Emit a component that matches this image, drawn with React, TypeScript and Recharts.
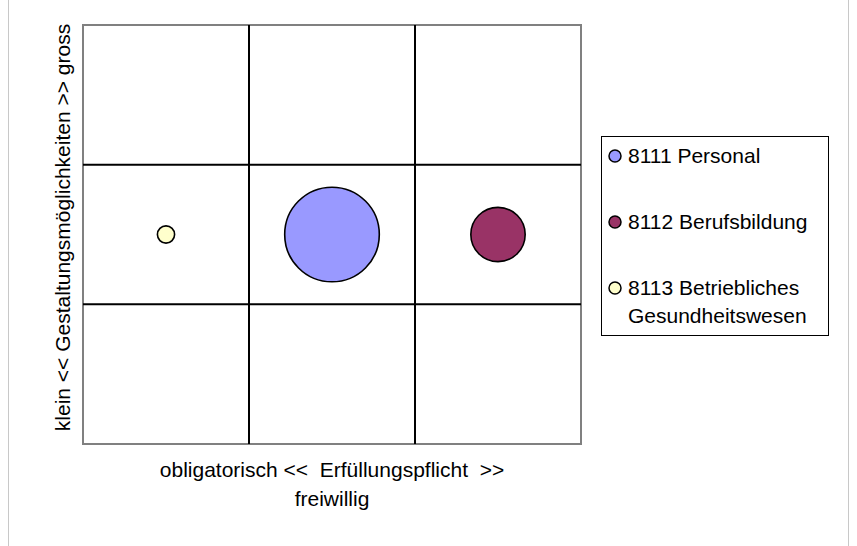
import React from 'react';
import {
  ScatterChart,
  Scatter,
  XAxis,
  YAxis,
  ZAxis,
  ReferenceLine,
  ReferenceArea,
  Legend,
} from 'recharts';

const seriesNames = ['8111 Personal', '8112 Berufsbildung', '8113 Betriebliches Gesundheitswesen'];
const erfuellungspflicht = [1.5, 2.5, 0.5];
const gestaltung = [1.5, 1.5, 1.5];
const volumen = [100, 33, 3.3];
const seriesColors = ['#9999ff', '#993366', '#ffffcc'];

// inner grid lines split the plot into a 3x3 matrix
const gridTicks = [1, 2];

const font = 'Arial, "Liberation Sans", sans-serif';

const XTitle = (props: any) => {
  const { x, y, width } = props.viewBox;
  const cx = x + width / 2;
  return (
    <text x={cx} y={y + 33} textAnchor="middle" fontSize={21} fill="#000" fontFamily={font} style={{ whiteSpace: 'pre' }}>
      <tspan x={cx}>{'obligatorisch <<  Erfüllungspflicht  >>'}</tspan>
      <tspan x={cx} dy={29}>freiwillig</tspan>
    </text>
  );
};

const YTitle = (props: any) => {
  const { x, y, width, height } = props.viewBox;
  const cx = x + width - 13;
  const cy = y + height / 2 - 7;
  return (
    <text
      x={cx}
      y={cy}
      textAnchor="middle"
      fontSize={21}
      fill="#000"
      fontFamily={font}
      transform={`rotate(-90, ${cx}, ${cy})`}
    >
      {'klein << Gestaltungsmöglichkeiten >> gross'}
    </text>
  );
};

const LegendBox = () => (
  <div
    style={{
      border: '1px solid #000',
      boxSizing: 'border-box',
      width: 228,
      height: 200,
      padding: '5px 4px 0 6px',
      fontFamily: font,
      fontSize: 21,
      lineHeight: '28px',
      color: '#000',
      background: '#fff',
    }}
  >
    {seriesNames.map((name, i) => (
      <div key={name} style={{ display: 'flex', alignItems: 'flex-start', marginBottom: 38 }}>
        <svg width={14} height={28} style={{ flex: 'none', marginRight: 6 }}>
          <circle cx={7} cy={14} r={6} fill={seriesColors[i]} stroke="#000" strokeWidth={1.5} />
        </svg>
        <span>{name}</span>
      </div>
    ))}
  </div>
);

export default function App() {
  return (
    <div style={{ position: 'absolute', left: 0, top: 0, width: 857, height: 546, background: '#fff' }}>
      <div
        style={{
          position: 'absolute',
          left: 8,
          top: 0,
          width: 841,
          height: 546,
          borderLeft: '1px solid #c8c8c8',
          borderRight: '1px solid #c8c8c8',
          boxSizing: 'border-box',
        }}
      />
      <ScatterChart width={857} height={546} margin={{ top: 25, right: 276, bottom: 0, left: 0 }}>
        <XAxis
          type="number"
          dataKey="x"
          domain={[0, 3]}
          tick={false}
          tickLine={false}
          axisLine={false}
          height={102}
          label={{ content: XTitle }}
        />
        <YAxis
          type="number"
          dataKey="y"
          domain={[0, 3]}
          tick={false}
          tickLine={false}
          axisLine={false}
          width={83}
          label={{ content: YTitle }}
        />
        <ZAxis type="number" dataKey="z" domain={[0, 100]} range={[0, 7029]} />
        {gridTicks.map((t) => (
          <ReferenceLine key={`vx${t}`} x={t} stroke="#000" strokeWidth={2} />
        ))}
        {gridTicks.map((t) => (
          <ReferenceLine key={`hy${t}`} y={t} stroke="#000" strokeWidth={2} />
        ))}
        <ReferenceArea x1={0} x2={3} y1={0} y2={3} fill="none" fillOpacity={0} stroke="#808080" strokeWidth={2} />
        {seriesNames.map((name, i) => (
          <Scatter
            key={name}
            name={name}
            data={[{ x: erfuellungspflicht[i], y: gestaltung[i], z: volumen[i] }]}
            fill={seriesColors[i]}
            stroke="#000"
            strokeWidth={1.6}
            isAnimationActive={false}
          />
        ))}
        <Legend
          layout="horizontal"
          align="center"
          verticalAlign="middle"
          content={<LegendBox />}
          wrapperStyle={{ left: 601, top: 136, width: 228, height: 200, right: 'auto', bottom: 'auto' }}
        />
      </ScatterChart>
    </div>
  );
}
